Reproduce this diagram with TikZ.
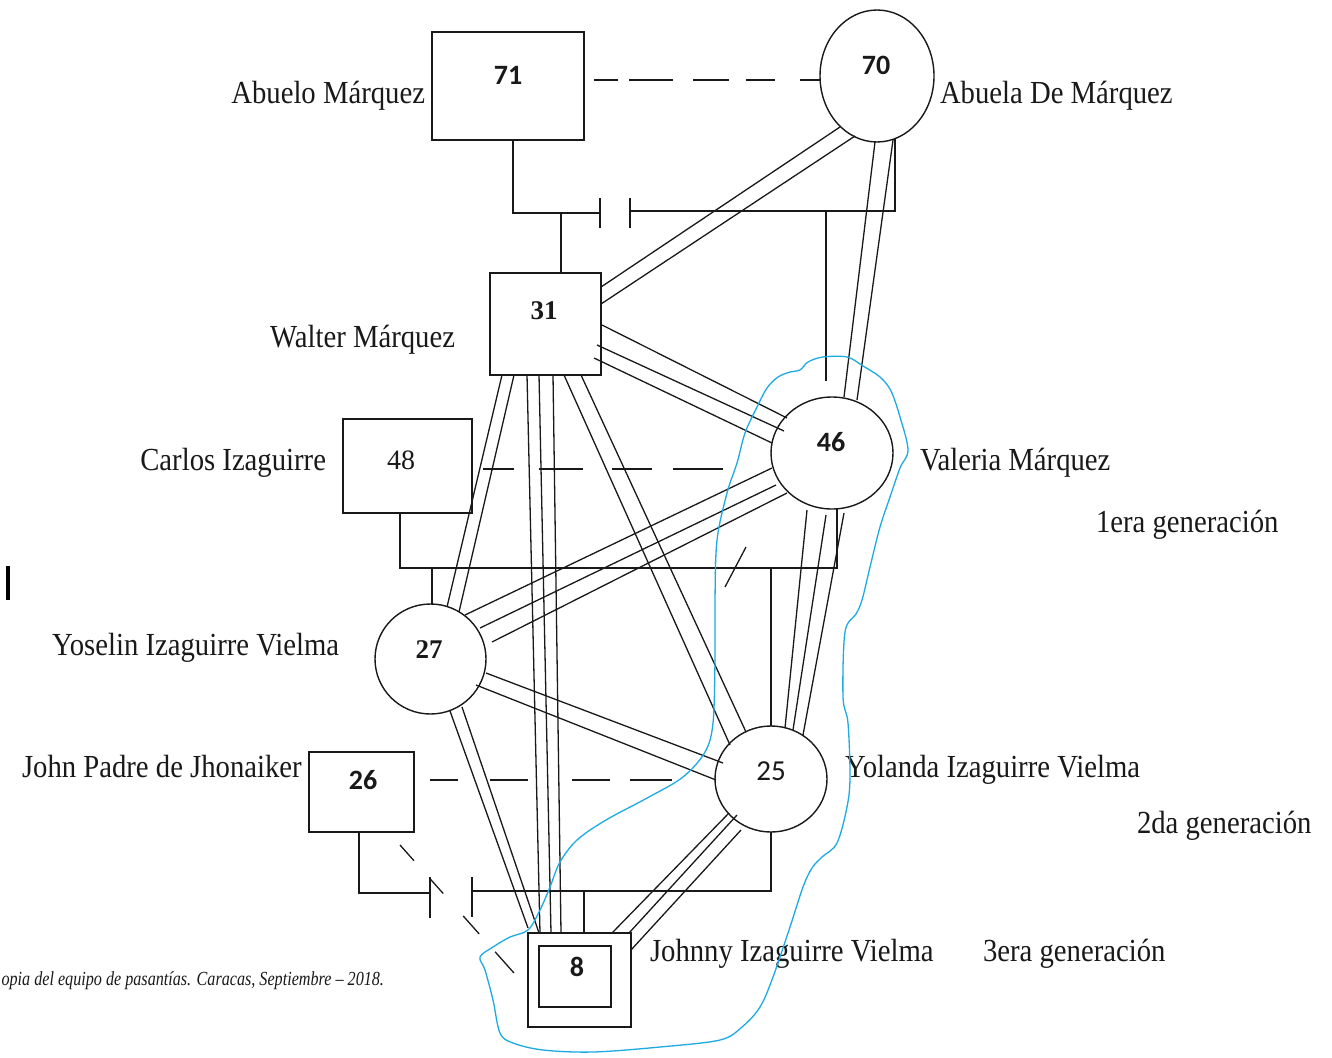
\documentclass[tikz,border=0pt]{standalone}
\usepackage{fontspec}
\usepackage{graphicx}
\setmainfont{Liberation Serif}
\newfontfamily\carlito{Carlito}
\usetikzlibrary{shapes.geometric,calc}
\definecolor{penblue}{RGB}{30,170,226}
\definecolor{ink}{RGB}{25,25,25}
\newcommand{\stx}[1]{\scalebox{1}[1.12]{#1}}
\begin{document}
\begin{tikzpicture}[x=1pt,y=-1pt,
  every node/.style={inner sep=0pt, outer sep=0pt, text=ink},
  rel/.style={draw=ink, line width=1.3pt},
  pbox/.style={draw=ink, rectangle, line width=1.4pt},
  pell/.style={draw=ink, ellipse, line width=1.4pt},
  numsans/.style={font=\carlito\bfseries\fontsize{28}{28}\selectfont},
  numsansr/.style={font=\carlito\fontsize{29}{29}\selectfont},
  numserif/.style={font=\bfseries\fontsize{27}{27}\selectfont},
  numserifr/.style={font=\fontsize{28}{28}\selectfont},
  lbl/.style={font=\fontsize{28.7}{30}\selectfont},
  pen/.style={draw=penblue, line width=1.3pt}
]
\useasboundingbox (0,0) rectangle (1332,1057);
\fill[white] (0,0) rectangle (1332,1057);

% ---------- persons ----------
\node[pbox, minimum width=152pt, minimum height=108pt] (n71) at (508,86) {};
\node[pell, minimum width=114pt, minimum height=132pt] (n70) at (877,76) {};
\node[pbox, minimum width=111pt, minimum height=102pt] (n31) at (545.5,324) {};
\node[pell, minimum width=122pt, minimum height=112pt] (n46) at (832,453) {};
\node[pbox, minimum width=129pt, minimum height=94pt] (n48) at (407.5,466) {};
\node[pell, minimum width=111pt, minimum height=110pt] (n27) at (430.5,659) {};
\node[pell, minimum width=112pt, minimum height=106pt] (n25) at (771,779) {};
\node[pbox, minimum width=105pt, minimum height=80pt] (n26) at (361.5,792) {};
\node[pbox, minimum width=103pt, minimum height=94pt] (n8) at (579.5,980) {};
\node[pbox, minimum width=72pt, minimum height=61pt] (n8i) at (575,976.5) {};

% ---------- ages ----------
\node[numsans] (t71) at (508,75) {71};
\node[numsans] (t70) at (876,65) {70};
\node[numserif] (t31) at (544,311) {31};
\node[numsans] (t46) at (831,442) {46};
\node[numserifr] (t48) at (401,460) {48};
\node[numserif] (t27) at (429,650) {27};
\node[numsansr] (t25) at (771,771) {25};
\node[numsans] (t26) at (363,780) {26};
\node[numsans] (t8) at (577,967) {8};

% ---------- names ----------
\node[lbl, anchor=base east] (l71) at (425,103) {\stx{Abuelo Márquez}};
\node[lbl, anchor=base west] (l70) at (940,103) {\stx{Abuela De Márquez}};
\node[lbl, anchor=base east] (l31) at (455,347) {\stx{Walter Márquez}};
\node[lbl, anchor=base east] (l48) at (326,470) {\stx{Carlos Izaguirre}};
\node[lbl, anchor=base west] (l46) at (920,470) {\stx{Valeria Márquez}};
\node[lbl, anchor=base west] (g1) at (1096,532) {\stx{1era generación}};
\node[lbl, anchor=base west] (l27) at (52,655) {\stx{Yoselin Izaguirre Vielma}};
\node[lbl, anchor=base west] (l26) at (22,777) {\stx{John Padre de Jhonaiker}};
\node[lbl, anchor=base west] (l25) at (845,777) {\stx{Yolanda Izaguirre Vielma}};
\node[lbl, anchor=base west] (g2) at (1137,833) {\stx{2da generación}};
\node[lbl, anchor=base west] (l8) at (650,961) {\stx{Johnny Izaguirre Vielma}};
\node[lbl, anchor=base west] (g3) at (983,961) {\stx{3era generación}};
\node[font=\itshape\fontsize{19}{20}\selectfont, anchor=base east] (cap) at (384,985) {\scalebox{0.85}[1.05]{opia del equipo de pasantías. Caracas, Septiembre – 2018.}};

% stray mark at left
\draw[draw=black, line width=3.5pt] (8,566) -- (8,600);

% ---------- dashed (distant) links ----------
\draw[rel, dash pattern=on 24pt off 11pt on 44pt off 20pt on 36pt off 17pt on 29pt off 25pt on 20pt off 10pt]
  ($(n71.east)+(10,-6)$) -- ($(n70.west)+(0,4)$);
\draw[rel, dash pattern=on 31pt off 25pt on 44pt off 29pt on 40pt off 21pt on 50pt off 10pt]
  ($(n48.east)+(11,3)$) -- ($(n46)+(-109,16)$);
\draw[rel, dash pattern=on 28pt off 32pt on 38pt off 44pt on 38pt off 20pt on 42pt off 10pt]
  ($(n26)+(68.5,-12)$) -- ($(n25)+(-99,1)$);
\draw[rel, dash pattern=on 21pt off 24pt on 20pt off 30pt on 24pt off 24pt on 29pt off 10pt]
  ($(n26)+(38.5,53)$) -- ($(n8)+(-65.5,-7)$);

% ---------- couple 71 - 70 (separated) ----------
\coordinate (m1a) at (600,213);
\coordinate (m1b) at (630,211);
\coordinate (c71) at (561,213);
\coordinate (c70) at (826,211);
\draw[rel] ($(n71.south)+(5,0)$) |- (m1a);
\draw[rel] ($(m1a)+(0,-15)$) -- ($(m1a)+(0,15)$);
\draw[rel] ($(m1b)+(0,-13)$) -- ($(m1b)+(0,17)$);
\draw[rel] (m1b) -| ($(n70)+(18,63)$);
\draw[rel] (c71) -- (c71 |- n31.north);
\draw[rel] (c70) -- ($(n46)+(-6,-72)$);

% ---------- couple 48 - 46 (separated) ----------
\coordinate (j48) at (400,568);
\coordinate (j46) at (837,568);
\coordinate (k27) at (432,568);
\coordinate (k25) at (771,568);
\coordinate (s1) at (746,547);
\coordinate (s2) at (725,587);
\draw[rel] (n48.south -| j48) -- (j48) -- (j46) -- (j46 |- n46.south);
\draw[rel] (s1) -- (s2);
\draw[rel] (k27) -- (k27 |- n27.north);
\draw[rel] (k25) -- (k25 |- n25.north);

% ---------- couple 26 - 25 (separated) ----------
\coordinate (j26) at (359,893);
\coordinate (t26a) at (430,893);
\coordinate (t26b) at (472,891);
\coordinate (j25) at (771,891);
\coordinate (k8) at (584,891);
\draw[rel] (n26.south -| j26) -- (j26) -- (t26a);
\draw[rel] ($(t26a)+(0,-16)$) -- ($(t26a)+(0,25)$);
\draw[rel] ($(t26b)+(0,-14)$) -- ($(t26b)+(0,26)$);
\draw[rel] (t26b) -- (j25) -- (j25 |- n25.south);
\draw[rel] (k8) -- (k8 |- n8.north);

% ---------- double lines ----------
% 70 - 31
\draw[rel] ($(n70)+(-37,51)$) -- ($(n31)+(55.5,-37)$);
\draw[rel] ($(n70)+(-22,60)$) -- ($(n31)+(55.5,-20)$);
% 70 - 46
\draw[rel] ($(n70)+(-2,66)$) -- ($(n46)+(12,-56)$);
\draw[rel] ($(n70)+(16,64)$) -- ($(n46)+(25,-53)$);
% 31 - 27
\draw[rel] ($(n31)+(-43.5,51)$) -- ($(n27)+(16.5,-52)$);
\draw[rel] ($(n31)+(-31.5,51)$) -- ($(n27)+(28.5,-47)$);
% 31 - 25
\draw[rel] ($(n31)+(18.5,51)$) -- ($(n25)+(-41,-34)$);
\draw[rel] ($(n31)+(35.5,51)$) -- ($(n25)+(-25,-47)$);
% 27 - 25
\draw[rel] ($(n27)+(55.5,14)$) -- ($(n25)+(-48,-16)$);
\draw[rel] ($(n27)+(45.5,26)$) -- ($(n25)+(-55,1)$);
% 27 - 8
\draw[rel] ($(n27)+(19.5,52)$) -- ($(n8)+(-51.5,-52)$);
\draw[rel] ($(n27)+(31.5,48)$) -- ($(n8)+(-40.5,-47)$);

% ---------- triple lines ----------
% 31 - 46
\draw[rel] ($(n31)+(56.5,1)$) -- ($(n46)+(-45,-35)$);
\draw[rel] ($(n31)+(51.5,21)$) -- ($(n46)+(-48,-22)$);
\draw[rel] ($(n31)+(48.5,34)$) -- ($(n46)+(-60,-10)$);
% 31 - 8
\draw[rel] ($(n31)+(-18.5,51)$) -- ($(n8)+(-39.5,-47)$);
\draw[rel] ($(n31)+(-6.5,51)$) -- ($(n8)+(-28.5,-47)$);
\draw[rel] ($(n31)+(7.5,51)$) -- ($(n8)+(-18.5,-47)$);
% 46 - 27
\draw[rel] ($(n46)+(-60,15)$) -- ($(n27)+(34.5,-44)$);
\draw[rel] ($(n46)+(-56,32)$) -- ($(n27)+(49.5,-31)$);
\draw[rel] ($(n46)+(-45,40)$) -- ($(n27)+(61.5,-17)$);
% 46 - 25
\draw[rel] ($(n46)+(-25,57)$) -- ($(n25)+(14,-51)$);
\draw[rel] ($(n46)+(-6,62)$) -- ($(n25)+(22,-49)$);
\draw[rel] ($(n46)+(12,60)$) -- ($(n25)+(32,-44)$);
% 25 - 8
\draw[rel] ($(n25)+(-42,34)$) -- ($(n8)+(32.5,-47)$);
\draw[rel] ($(n25)+(-34,36)$) -- ($(n8)+(49.5,-47)$);
\draw[rel] ($(n25)+(-30,51)$) -- ($(n8)+(51.5,-30)$);

% ---------- hand-drawn blue outline ----------
\draw[pen] plot[smooth cycle, tension=0.55] coordinates {
 (823,357) (847,357) (863,366) (880,377) (891,391) (900,417) (908,450) (900,468)
 (890,497) (880,527) (870,567) (862,600) (856,614) (845,632) (843,697) (848,723)
 (850,777) (847,807) (837,843) (822,857) (812,868) (803,887) (790,927) (773,977)
 (760,1007) (742,1027) (720,1040) (660,1047) (593,1052) (543,1050) (513,1043)
 (500,1033) (493,1000) (485,970) (480,957) (493,947) (510,937) (528,930) (540,910)
 (550,887) (560,862) (577,840) (606,820) (649,797) (683,777) (705,752) (713,723)
 (715,660) (715,600) (717,540) (727,493) (737,463) (745,433) (757,407) (767,388)
 (778,377) (790,372) (800,370) (808,362)};
\end{tikzpicture}
\end{document}
